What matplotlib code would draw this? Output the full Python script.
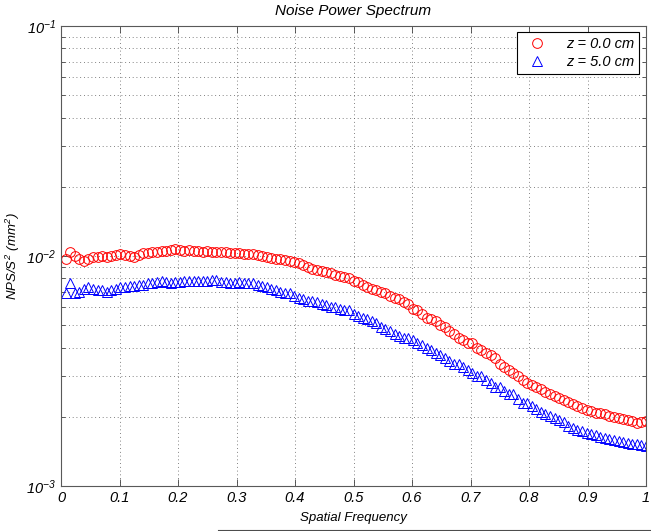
import numpy as np
import matplotlib
matplotlib.use("Agg")
import matplotlib.pyplot as plt
from matplotlib.lines import Line2D
from matplotlib.ticker import FixedLocator, LogLocator, NullFormatter

plt.rcParams['font.family'] = ['Liberation Sans', 'DejaVu Sans']
plt.rcParams['mathtext.fontset'] = 'custom'
plt.rcParams['mathtext.rm'] = 'Liberation Sans:italic'
plt.rcParams['mathtext.it'] = 'Liberation Sans:italic'

title = "Noise Power Spectrum"
xlabel = "Spatial Frequency"
ylabel = r"$NPS/S^2\ (mm^2)$"
legend_labels = ["z = 0.0 cm", "z = 5.0 cm"]

# frequency samples k/128, k = 1..128
freq = np.arange(1, 129) / 128.0

nps_z0 = [0.0097, 0.0104, 0.0100, 0.0097, 0.0095, 0.0097, 0.0099, 0.0099, 0.0100, 0.0099,
          0.0100, 0.0101, 0.0102, 0.0101, 0.0100, 0.0099, 0.0101, 0.0103, 0.0103, 0.0104,
          0.0104, 0.0105, 0.0105, 0.0106, 0.0107, 0.0106, 0.0105, 0.0106, 0.0105, 0.0105,
          0.0104, 0.0105, 0.0104, 0.0104, 0.0104, 0.0104, 0.0103, 0.0103, 0.0103, 0.0102,
          0.0102, 0.0102, 0.0101, 0.0100, 0.0099, 0.0098, 0.0097, 0.0097, 0.0096, 0.0095,
          0.0094, 0.0093, 0.0091, 0.0090, 0.0088, 0.0087, 0.0086, 0.0085, 0.0084, 0.0083,
          0.0082, 0.0081, 0.0080, 0.0078, 0.0077, 0.0075, 0.0073, 0.0072, 0.0071, 0.0070,
          0.0069, 0.0067, 0.0066, 0.0065, 0.0063, 0.0062, 0.0059, 0.0058, 0.0056, 0.0054,
          0.0053, 0.0052, 0.0050, 0.0049, 0.0047, 0.0046, 0.0044, 0.0043, 0.0042, 0.0042,
          0.0040, 0.0039, 0.0038, 0.0037, 0.0036, 0.0034, 0.0033, 0.0032, 0.0031, 0.0030,
          0.0029, 0.0028, 0.00275, 0.0027, 0.00264, 0.00256, 0.00251, 0.00247, 0.00241, 0.00237,
          0.00232, 0.00228, 0.00223, 0.00219, 0.00215, 0.00212, 0.00208, 0.00207, 0.00205, 0.00202,
          0.00200, 0.00197, 0.00195, 0.00193, 0.00191, 0.00188, 0.00190, 0.00191]

nps_z5 = [0.0069, 0.0076, 0.0069, 0.0070, 0.0072, 0.0073, 0.0072, 0.0071, 0.0071, 0.0070,
          0.0071, 0.0072, 0.0073, 0.0073, 0.0074, 0.0074, 0.0075, 0.0075, 0.0076, 0.0076,
          0.0077, 0.0078, 0.0077, 0.0076, 0.0077, 0.0077, 0.0078, 0.0078, 0.0078, 0.0078,
          0.0078, 0.0078, 0.0079, 0.0079, 0.0077, 0.0077, 0.0076, 0.0076, 0.0077, 0.0076,
          0.0076, 0.0076, 0.0075, 0.0074, 0.0073, 0.0072, 0.0071, 0.0070, 0.0069, 0.0069,
          0.0067, 0.0066, 0.0065, 0.0064, 0.0064, 0.0063, 0.0062, 0.0061, 0.0060, 0.0060,
          0.0059, 0.0058, 0.0058, 0.0056, 0.0055, 0.0054, 0.0053, 0.0052, 0.0051, 0.0049,
          0.0048, 0.0047, 0.0046, 0.0045, 0.0044, 0.0044, 0.0043, 0.0042, 0.0041, 0.0040,
          0.0039, 0.0038, 0.0037, 0.0036, 0.0035, 0.0034, 0.0034, 0.0033, 0.0032, 0.0031,
          0.0030, 0.0030, 0.0029, 0.0028, 0.0027, 0.0027, 0.0026, 0.0025, 0.0025, 0.0024,
          0.0023, 0.0023, 0.00222, 0.00216, 0.00210, 0.00205, 0.00201, 0.00198, 0.00193, 0.00189,
          0.00183, 0.00179, 0.00176, 0.00173, 0.00170, 0.00168, 0.00166, 0.00164, 0.00162, 0.00160,
          0.00159, 0.00157, 0.00156, 0.00154, 0.00153, 0.00152, 0.00150, 0.00149]

xticks = [0, 0.1, 0.2, 0.3, 0.4, 0.5, 0.6, 0.7, 0.8, 0.9, 1]
xticklabels = ["0", "0.1", "0.2", "0.3", "0.4", "0.5", "0.6", "0.7", "0.8", "0.9", "1"]
yticks = [1e-3, 1e-2, 1e-1]
yticklabels = [r"$10^{-3}$", r"$10^{-2}$", r"$10^{-1}$"]

fig = plt.figure(figsize=(6.51, 5.31), dpi=100)
ax = fig.add_axes([61/651, 1-486/531, 585/651, 460/531])

ax.plot(freq, nps_z0, linestyle='none', marker='o', markersize=7.0,
        markerfacecolor='none', markeredgecolor='#ff0000', markeredgewidth=0.7,
        label=legend_labels[0])
ax.plot(freq, nps_z5, linestyle='none', marker='^', markersize=7.0,
        markerfacecolor='none', markeredgecolor='#0000ff', markeredgewidth=0.7,
        label=legend_labels[1])

ax.set_yscale('log')
ax.set_xlim(0, 1)
ax.set_ylim(1e-3, 1e-1)

ax.set_xticks(xticks)
ax.set_xticklabels(xticklabels, fontstyle='italic', fontsize=10.5)
ax.yaxis.set_major_locator(FixedLocator(yticks))
ax.set_yticklabels(yticklabels, fontsize=10.5)
ax.yaxis.set_minor_locator(LogLocator(base=10, subs=np.arange(2, 10)))
ax.yaxis.set_minor_formatter(NullFormatter())

ax.tick_params(which='both', direction='in', top=True, right=True, colors='0.25',
               labelcolor='black')
ax.tick_params(which='major', length=5, width=0.6)
ax.tick_params(which='minor', length=3, width=0.6)
for s in ax.spines.values():
    s.set_color('0.35')
    s.set_linewidth(0.8)

gridstyle = dict(color='0.35', linestyle=(0, (1, 3.5)), linewidth=0.6)
ax.grid(True, which='major', axis='both', **gridstyle)
ax.grid(True, which='minor', axis='y', **gridstyle)

ax.set_title(title, fontstyle='italic', fontsize=11, pad=8)
ax.set_xlabel(xlabel, fontstyle='italic', fontsize=9.5, labelpad=5)
ax.set_ylabel(ylabel, fontsize=9.5, labelpad=3)

leg = ax.legend(loc='upper right', bbox_to_anchor=(0.988, 0.987), fancybox=False,
                framealpha=1, edgecolor='black', borderaxespad=0,
                prop={'style': 'italic', 'size': 10.5}, handletextpad=1.0,
                borderpad=0.35, labelspacing=0.25, handlelength=2.0)
leg.get_frame().set_linewidth(0.8)

fig.add_artist(Line2D([218/651, 1.0], [1-529.5/531, 1-529.5/531],
                      transform=fig.transFigure, color='0.3', linewidth=0.8))

fig.savefig('out.png', dpi=100)
